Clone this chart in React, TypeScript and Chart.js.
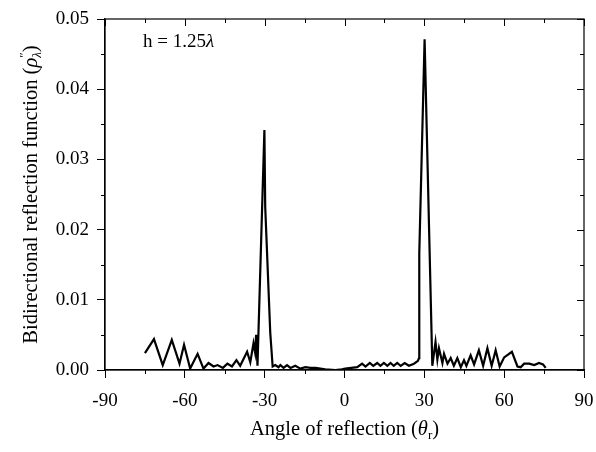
import React, { useEffect, useRef } from "react";
import { Chart, registerables } from "chart.js";

Chart.register(...registerables);

// Angle of reflection (degrees)
const angles = [
  -75.0, -71.6, -68.3, -64.9, -62.0, -60.3, -58.0, -55.2, -53.0, -51.1,
  -49.2, -47.7, -45.7, -44.0, -42.3, -40.6, -39.2, -36.6, -35.4, -34.2,
  -33.6, -33.2, -32.7, -30.1, -29.8, -27.9, -27.0, -26.0, -24.8, -24.1,
  -22.9, -21.6, -20.3, -18.5, -16.6, -14.7, -12.8, -10.9, -7.2, -3.4,
  -1.0, 0.3, 2.5, 4.8, 6.6, 7.9, 9.5, 10.8, 12.3, 13.5,
  14.8, 16.1, 17.3, 18.5, 19.8, 21.1, 22.6, 24.2, 26.1, 27.6,
  28.0, 28.1, 30.1, 33.0, 34.2, 34.9, 35.5, 36.8, 37.4, 38.7,
  39.9, 41.1, 42.4, 43.7, 44.9, 45.8, 47.4, 48.7, 50.5, 52.1,
  53.7, 55.3, 56.8, 58.3, 60.0, 62.9, 65.0, 66.2, 67.5, 69.4,
  71.3, 73.1, 74.6, 75.6,
];

// Bidirectional reflection function values
const brdf = [
  0.0024, 0.0044, 0.0007, 0.0043, 0.0009, 0.0036, 0.0002, 0.0023, 0.0002, 0.001,
  0.0005, 0.0007, 0.0003, 0.0009, 0.0005, 0.0014, 0.0006, 0.0026, 0.0011, 0.0038,
  0.0025, 0.005, 0.0006, 0.0342, 0.0233, 0.0053, 0.0005, 0.0007, 0.0004, 0.0007,
  0.0003, 0.0007, 0.0003, 0.0006, 0.0002, 0.0004, 0.0003, 0.0003, 0.0001, 0.0,
  0.0001, 0.0002, 0.0003, 0.0004, 0.0009, 0.0005, 0.001, 0.0006, 0.001, 0.0006,
  0.001, 0.0006, 0.001, 0.0006, 0.001, 0.0006, 0.001, 0.0006, 0.0009, 0.0013,
  0.0017, 0.0166, 0.0471, 0.0006, 0.004, 0.0015, 0.0031, 0.001, 0.0023, 0.0009,
  0.0017, 0.0006, 0.0017, 0.0004, 0.0014, 0.0006, 0.0021, 0.0008, 0.0028, 0.0006,
  0.0031, 0.0006, 0.0028, 0.0005, 0.0018, 0.0026, 0.0005, 0.0004, 0.0009, 0.0009,
  0.0007, 0.001, 0.0008, 0.0003,
];

const xMajorTicks = [-90, -60, -30, 0, 30, 60, 90];
const xMinorTicks = [-75, -45, -15, 15, 45, 75];
const yMajorTicks = [0, 0.01, 0.02, 0.03, 0.04, 0.05];
const yMinorTicks = [0.005, 0.015, 0.025, 0.035, 0.045];

const FONT = '"Liberation Serif", "Times New Roman", serif';
const TICK_SIZE = 19;
const TITLE_SIZE = 20.5;

type Part = { text: string; italic?: boolean; size?: number; dy?: number; stack?: boolean };

function fontOf(p: Part, base: number) {
  return `${p.italic ? "italic " : ""}${p.size ?? base}px ${FONT}`;
}

function richWidth(ctx: CanvasRenderingContext2D, parts: Part[], base: number) {
  let w = 0;
  let i = 0;
  while (i < parts.length) {
    const p = parts[i];
    ctx.font = fontOf(p, base);
    let pw = ctx.measureText(p.text).width;
    if (p.stack && i + 1 < parts.length) {
      const q = parts[i + 1];
      ctx.font = fontOf(q, base);
      pw = Math.max(pw, ctx.measureText(q.text).width);
      i += 2;
    } else {
      i += 1;
    }
    w += pw;
  }
  return w;
}

function drawRich(ctx: CanvasRenderingContext2D, parts: Part[], cx: number, y: number, base: number) {
  const total = richWidth(ctx, parts, base);
  let x = cx - total / 2;
  ctx.textAlign = "left";
  ctx.textBaseline = "alphabetic";
  let i = 0;
  while (i < parts.length) {
    const p = parts[i];
    ctx.font = fontOf(p, base);
    ctx.fillText(p.text, x, y + (p.dy ?? 0));
    let pw = ctx.measureText(p.text).width;
    if (p.stack && i + 1 < parts.length) {
      const q = parts[i + 1];
      ctx.font = fontOf(q, base);
      ctx.fillText(q.text, x, y + (q.dy ?? 0));
      pw = Math.max(pw, ctx.measureText(q.text).width);
      i += 2;
    } else {
      i += 1;
    }
    x += pw;
  }
}

const decorPlugin = {
  id: "decor",
  afterDraw(chart: any) {
    const { ctx, chartArea: a, scales } = chart;
    const xs = scales.x;
    const ys = scales.y;
    ctx.save();
    ctx.strokeStyle = "#000";
    ctx.lineWidth = 1.2;
    ctx.strokeRect(a.left, a.top, a.right - a.left, a.bottom - a.top);

    ctx.lineWidth = 1;
    ctx.beginPath();
    for (const v of xMinorTicks) {
      const px = Math.round(xs.getPixelForValue(v)) + 0.5;
      ctx.moveTo(px, a.bottom);
      ctx.lineTo(px, a.bottom + 4);
      ctx.moveTo(px, a.top);
      ctx.lineTo(px, a.top + 4);
    }
    for (const v of xMajorTicks) {
      const px = Math.round(xs.getPixelForValue(v)) + 0.5;
      ctx.moveTo(px, a.top);
      ctx.lineTo(px, a.top + 7);
    }
    for (const v of yMinorTicks) {
      const py = Math.round(ys.getPixelForValue(v)) + 0.5;
      ctx.moveTo(a.left, py);
      ctx.lineTo(a.left - 4, py);
      ctx.moveTo(a.right, py);
      ctx.lineTo(a.right - 4, py);
    }
    for (const v of yMajorTicks) {
      const py = Math.round(ys.getPixelForValue(v)) + 0.5;
      ctx.moveTo(a.right, py);
      ctx.lineTo(a.right - 7, py);
    }
    ctx.stroke();

    ctx.fillStyle = "#000";
    // x title
    drawRich(
      ctx,
      [
        { text: "Angle of reflection (" },
        { text: "θ", italic: true },
        { text: "r", size: 13, dy: 4 },
        { text: ")" },
      ],
      (a.left + a.right) / 2,
      435,
      TITLE_SIZE
    );
    // y title
    ctx.save();
    ctx.translate(37, (a.top + a.bottom) / 2);
    ctx.rotate(-Math.PI / 2);
    drawRich(
      ctx,
      [
        { text: "Bidirectional reflection function (" },
        { text: "ρ", italic: true },
        { text: "″", size: 13, dy: -9, stack: true },
        { text: "λ", italic: true, size: 13, dy: 4 },
        { text: ")" },
      ],
      0,
      0,
      TITLE_SIZE
    );
    ctx.restore();

    // annotation
    ctx.textAlign = "left";
    ctx.textBaseline = "alphabetic";
    ctx.font = `19px ${FONT}`;
    const label = "h = 1.25";
    ctx.fillText(label, 143, 47);
    const lw = ctx.measureText(label).width;
    ctx.font = `italic 19px ${FONT}`;
    ctx.fillText("λ", 143 + lw, 47);
    ctx.restore();
  },
};

export default function App() {
  const ref = useRef<HTMLCanvasElement | null>(null);

  useEffect(() => {
    document.body.style.margin = "0";
    const canvas = ref.current;
    if (!canvas) return;
    const chart = new Chart(canvas, {
      type: "scatter",
      data: {
        datasets: [
          {
            data: angles.map((a, i) => ({ x: a, y: brdf[i] })),
            showLine: true,
            borderColor: "#000",
            backgroundColor: "#000",
            borderWidth: 2.2,
            pointRadius: 0,
            tension: 0,
            fill: false,
          },
        ],
      },
      options: {
        animation: false,
        responsive: false,
        devicePixelRatio: 1,
        layout: { padding: { top: 19, right: 12, left: 0, bottom: 0 } },
        plugins: { legend: { display: false }, tooltip: { enabled: false } },
        scales: {
          x: {
            type: "linear",
            min: -90,
            max: 90,
            afterBuildTicks: (s: any) => {
              s.ticks = xMajorTicks.map((v) => ({ value: v }));
            },
            ticks: {
              color: "#000",
              font: { family: FONT, size: TICK_SIZE },
              padding: 12,
              maxRotation: 0,
              autoSkip: false,
              callback: (v: any) => String(v),
            },
            grid: { drawOnChartArea: false, drawTicks: true, tickLength: 8, color: "#000", lineWidth: 1 },
            border: { display: true, color: "#000", width: 1.2 },
            afterFit: (s: any) => {
              s.height = 82;
              s.paddingLeft = 0;
              s.paddingRight = 0;
            },
          },
          y: {
            min: 0,
            max: 0.05,
            afterBuildTicks: (s: any) => {
              s.ticks = yMajorTicks.map((v) => ({ value: v }));
            },
            ticks: {
              color: "#000",
              font: { family: FONT, size: TICK_SIZE },
              padding: 8,
              autoSkip: false,
              callback: (v: any) => Number(v).toFixed(2),
            },
            grid: { drawOnChartArea: false, drawTicks: true, tickLength: 8, color: "#000", lineWidth: 1 },
            border: { display: true, color: "#000", width: 1.2 },
            afterFit: (s: any) => {
              s.width = 105;
              s.paddingTop = 0;
              s.paddingBottom = 0;
            },
          },
        },
      },
      plugins: [decorPlugin],
    });
    return () => chart.destroy();
  }, []);

  return (
    <div style={{ width: 596, height: 452, background: "#fff" }}>
      <canvas ref={ref} width={596} height={452} style={{ display: "block", width: 596, height: 452 }} />
    </div>
  );
}
